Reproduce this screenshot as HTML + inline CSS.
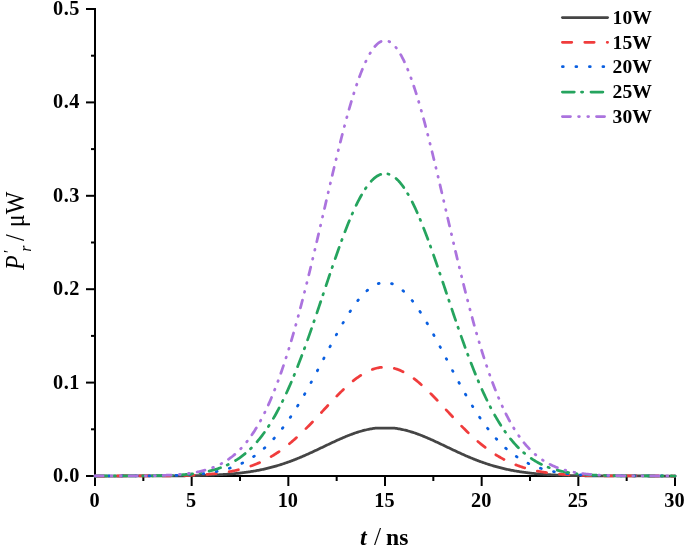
<!DOCTYPE html>
<html><head><meta charset="utf-8"><style>
html,body{margin:0;padding:0;background:#fff;width:685px;height:546px;overflow:hidden;}
svg{display:block;will-change:transform;}
text{font-family:"Liberation Serif", serif;}
</style></head><body>
<svg width="685" height="546" viewBox="0 0 685 546"><g stroke="#000" stroke-width="2" fill="none" stroke-linecap="butt">
<line x1="95" y1="8" x2="95" y2="486"/>
<line x1="94" y1="476" x2="675" y2="476"/>
<line x1="86" y1="476.00" x2="95" y2="476.00"/>
<line x1="86" y1="382.60" x2="95" y2="382.60"/>
<line x1="86" y1="289.20" x2="95" y2="289.20"/>
<line x1="86" y1="195.80" x2="95" y2="195.80"/>
<line x1="86" y1="102.40" x2="95" y2="102.40"/>
<line x1="86" y1="9.00" x2="95" y2="9.00"/>
<line x1="91" y1="429.30" x2="95" y2="429.30"/>
<line x1="91" y1="335.90" x2="95" y2="335.90"/>
<line x1="91" y1="242.50" x2="95" y2="242.50"/>
<line x1="91" y1="149.10" x2="95" y2="149.10"/>
<line x1="91" y1="55.70" x2="95" y2="55.70"/>
<line x1="95.00" y1="476" x2="95.00" y2="486"/>
<line x1="191.67" y1="476" x2="191.67" y2="486"/>
<line x1="288.33" y1="476" x2="288.33" y2="486"/>
<line x1="385.00" y1="476" x2="385.00" y2="486"/>
<line x1="481.67" y1="476" x2="481.67" y2="486"/>
<line x1="578.33" y1="476" x2="578.33" y2="486"/>
<line x1="675.00" y1="476" x2="675.00" y2="486"/>
<line x1="143.33" y1="476" x2="143.33" y2="481"/>
<line x1="240.00" y1="476" x2="240.00" y2="481"/>
<line x1="336.67" y1="476" x2="336.67" y2="481"/>
<line x1="433.33" y1="476" x2="433.33" y2="481"/>
<line x1="530.00" y1="476" x2="530.00" y2="481"/>
<line x1="626.67" y1="476" x2="626.67" y2="481"/>
</g>
<path d="M95.00,476.00 L95.97,476.00 L96.93,476.00 L97.90,476.00 L98.87,476.00 L99.83,476.00 L100.80,476.00 L101.77,476.00 L102.73,476.00 L103.70,476.00 L104.67,476.00 L105.63,476.00 L106.60,476.00 L107.57,476.00 L108.53,476.00 L109.50,476.00 L110.47,476.00 L111.43,476.00 L112.40,476.00 L113.37,476.00 L114.33,476.00 L115.30,476.00 L116.27,476.00 L117.23,476.00 L118.20,476.00 L119.17,476.00 L120.13,476.00 L121.10,476.00 L122.07,476.00 L123.03,475.99 L124.00,475.99 L124.97,475.99 L125.93,475.99 L126.90,475.99 L127.87,475.99 L128.83,475.99 L129.80,475.99 L130.77,475.99 L131.73,475.99 L132.70,475.99 L133.67,475.99 L134.63,475.99 L135.60,475.99 L136.57,475.99 L137.53,475.99 L138.50,475.99 L139.47,475.98 L140.43,475.98 L141.40,475.98 L142.37,475.98 L143.33,475.98 L144.30,475.98 L145.27,475.98 L146.23,475.98 L147.20,475.97 L148.17,475.97 L149.13,475.97 L150.10,475.97 L151.07,475.97 L152.03,475.96 L153.00,475.96 L153.97,475.96 L154.93,475.96 L155.90,475.96 L156.87,475.95 L157.83,475.95 L158.80,475.95 L159.77,475.94 L160.73,475.94 L161.70,475.94 L162.67,475.93 L163.63,475.93 L164.60,475.92 L165.57,475.92 L166.53,475.92 L167.50,475.91 L168.47,475.91 L169.43,475.90 L170.40,475.89 L171.37,475.89 L172.33,475.88 L173.30,475.88 L174.27,475.87 L175.23,475.86 L176.20,475.85 L177.17,475.85 L178.13,475.84 L179.10,475.83 L180.07,475.82 L181.03,475.81 L182.00,475.80 L182.97,475.79 L183.93,475.78 L184.90,475.77 L185.87,475.75 L186.83,475.74 L187.80,475.73 L188.77,475.71 L189.73,475.70 L190.70,475.68 L191.67,475.67 L192.63,475.65 L193.60,475.63 L194.57,475.61 L195.53,475.59 L196.50,475.57 L197.47,475.55 L198.43,475.53 L199.40,475.51 L200.37,475.48 L201.33,475.46 L202.30,475.43 L203.27,475.40 L204.23,475.38 L205.20,475.35 L206.17,475.31 L207.13,475.28 L208.10,475.25 L209.07,475.21 L210.03,475.18 L211.00,475.14 L211.97,475.10 L212.93,475.06 L213.90,475.02 L214.87,474.97 L215.83,474.93 L216.80,474.88 L217.77,474.83 L218.73,474.78 L219.70,474.73 L220.67,474.67 L221.63,474.61 L222.60,474.55 L223.57,474.49 L224.53,474.43 L225.50,474.36 L226.47,474.30 L227.43,474.22 L228.40,474.15 L229.37,474.08 L230.33,474.00 L231.30,473.92 L232.27,473.83 L233.23,473.75 L234.20,473.66 L235.17,473.56 L236.13,473.47 L237.10,473.37 L238.07,473.27 L239.03,473.16 L240.00,473.05 L240.97,472.94 L241.93,472.83 L242.90,472.71 L243.87,472.59 L244.83,472.46 L245.80,472.33 L246.77,472.20 L247.73,472.06 L248.70,471.92 L249.67,471.77 L250.63,471.63 L251.60,471.47 L252.57,471.31 L253.53,471.15 L254.50,470.99 L255.47,470.82 L256.43,470.64 L257.40,470.46 L258.37,470.28 L259.33,470.09 L260.30,469.89 L261.27,469.70 L262.23,469.49 L263.20,469.29 L264.17,469.07 L265.13,468.85 L266.10,468.63 L267.07,468.40 L268.03,468.17 L269.00,467.93 L269.97,467.69 L270.93,467.44 L271.90,467.19 L272.87,466.93 L273.83,466.66 L274.80,466.39 L275.77,466.12 L276.73,465.84 L277.70,465.55 L278.67,465.26 L279.63,464.96 L280.60,464.66 L281.57,464.35 L282.53,464.04 L283.50,463.72 L284.47,463.40 L285.43,463.07 L286.40,462.74 L287.37,462.40 L288.33,462.05 L289.30,461.70 L290.27,461.35 L291.23,460.99 L292.20,460.63 L293.17,460.26 L294.13,459.88 L295.10,459.50 L296.07,459.12 L297.03,458.73 L298.00,458.34 L298.97,457.94 L299.93,457.54 L300.90,457.13 L301.87,456.72 L302.83,456.30 L303.80,455.89 L304.77,455.46 L305.73,455.04 L306.70,454.61 L307.67,454.18 L308.63,453.74 L309.60,453.30 L310.57,452.86 L311.53,452.41 L312.50,451.97 L313.47,451.52 L314.43,451.07 L315.40,450.61 L316.37,450.16 L317.33,449.70 L318.30,449.24 L319.27,448.78 L320.23,448.32 L321.20,447.86 L322.17,447.40 L323.13,446.93 L324.10,446.47 L325.07,446.01 L326.03,445.55 L327.00,445.08 L327.97,444.62 L328.93,444.16 L329.90,443.70 L330.87,443.25 L331.83,442.79 L332.80,442.34 L333.77,441.89 L334.73,441.44 L335.70,440.99 L336.67,440.55 L337.63,440.11 L338.60,439.67 L339.57,439.24 L340.53,438.82 L341.50,438.39 L342.47,437.97 L343.43,437.56 L344.40,437.15 L345.37,436.75 L346.33,436.35 L347.30,435.96 L348.27,435.57 L349.23,435.19 L350.20,434.82 L351.17,434.46 L352.13,434.10 L353.10,433.75 L354.07,433.41 L355.03,433.07 L356.00,432.74 L356.97,432.42 L357.93,432.11 L358.90,431.81 L359.87,431.52 L360.83,431.24 L361.80,430.96 L362.77,430.70 L363.73,430.45 L364.70,430.20 L365.67,429.97 L366.63,429.74 L367.60,429.53 L368.57,429.33 L369.53,429.14 L370.50,428.95 L371.47,428.78 L372.43,428.63 L373.40,428.48 L374.37,428.34 L375.33,428.22 L376.30,428.22 L377.27,428.22 L378.23,428.22 L379.20,428.22 L380.17,428.22 L381.13,428.22 L382.10,428.22 L383.07,428.22 L384.03,428.22 L385.00,428.22 L385.97,428.22 L386.93,428.22 L387.90,428.22 L388.87,428.22 L389.83,428.22 L390.80,428.22 L391.77,428.22 L392.73,428.22 L393.70,428.22 L394.67,428.22 L395.63,428.34 L396.60,428.48 L397.57,428.63 L398.53,428.78 L399.50,428.95 L400.47,429.14 L401.43,429.33 L402.40,429.53 L403.37,429.74 L404.33,429.97 L405.30,430.20 L406.27,430.45 L407.23,430.70 L408.20,430.96 L409.17,431.24 L410.13,431.52 L411.10,431.81 L412.07,432.11 L413.03,432.42 L414.00,432.74 L414.97,433.07 L415.93,433.41 L416.90,433.75 L417.87,434.10 L418.83,434.46 L419.80,434.82 L420.77,435.19 L421.73,435.57 L422.70,435.96 L423.67,436.35 L424.63,436.75 L425.60,437.15 L426.57,437.56 L427.53,437.97 L428.50,438.39 L429.47,438.82 L430.43,439.24 L431.40,439.67 L432.37,440.11 L433.33,440.55 L434.30,440.99 L435.27,441.44 L436.23,441.89 L437.20,442.34 L438.17,442.79 L439.13,443.25 L440.10,443.70 L441.07,444.16 L442.03,444.62 L443.00,445.08 L443.97,445.55 L444.93,446.01 L445.90,446.47 L446.87,446.93 L447.83,447.40 L448.80,447.86 L449.77,448.32 L450.73,448.78 L451.70,449.24 L452.67,449.70 L453.63,450.16 L454.60,450.61 L455.57,451.07 L456.53,451.52 L457.50,451.97 L458.47,452.41 L459.43,452.86 L460.40,453.30 L461.37,453.74 L462.33,454.18 L463.30,454.61 L464.27,455.04 L465.23,455.46 L466.20,455.89 L467.17,456.30 L468.13,456.72 L469.10,457.13 L470.07,457.54 L471.03,457.94 L472.00,458.34 L472.97,458.73 L473.93,459.12 L474.90,459.50 L475.87,459.88 L476.83,460.26 L477.80,460.63 L478.77,460.99 L479.73,461.35 L480.70,461.70 L481.67,462.05 L482.63,462.40 L483.60,462.74 L484.57,463.07 L485.53,463.40 L486.50,463.72 L487.47,464.04 L488.43,464.35 L489.40,464.66 L490.37,464.96 L491.33,465.26 L492.30,465.55 L493.27,465.84 L494.23,466.12 L495.20,466.39 L496.17,466.66 L497.13,466.93 L498.10,467.19 L499.07,467.44 L500.03,467.69 L501.00,467.93 L501.97,468.17 L502.93,468.40 L503.90,468.63 L504.87,468.85 L505.83,469.07 L506.80,469.29 L507.77,469.49 L508.73,469.70 L509.70,469.89 L510.67,470.09 L511.63,470.28 L512.60,470.46 L513.57,470.64 L514.53,470.82 L515.50,470.99 L516.47,471.15 L517.43,471.31 L518.40,471.47 L519.37,471.63 L520.33,471.77 L521.30,471.92 L522.27,472.06 L523.23,472.20 L524.20,472.33 L525.17,472.46 L526.13,472.59 L527.10,472.71 L528.07,472.83 L529.03,472.94 L530.00,473.05 L530.97,473.16 L531.93,473.27 L532.90,473.37 L533.87,473.47 L534.83,473.56 L535.80,473.66 L536.77,473.75 L537.73,473.83 L538.70,473.92 L539.67,474.00 L540.63,474.08 L541.60,474.15 L542.57,474.22 L543.53,474.30 L544.50,474.36 L545.47,474.43 L546.43,474.49 L547.40,474.55 L548.37,474.61 L549.33,474.67 L550.30,474.73 L551.27,474.78 L552.23,474.83 L553.20,474.88 L554.17,474.93 L555.13,474.97 L556.10,475.02 L557.07,475.06 L558.03,475.10 L559.00,475.14 L559.97,475.18 L560.93,475.21 L561.90,475.25 L562.87,475.28 L563.83,475.31 L564.80,475.35 L565.77,475.38 L566.73,475.40 L567.70,475.43 L568.67,475.46 L569.63,475.48 L570.60,475.51 L571.57,475.53 L572.53,475.55 L573.50,475.57 L574.47,475.59 L575.43,475.61 L576.40,475.63 L577.37,475.65 L578.33,475.67 L579.30,475.68 L580.27,475.70 L581.23,475.71 L582.20,475.73 L583.17,475.74 L584.13,475.75 L585.10,475.77 L586.07,475.78 L587.03,475.79 L588.00,475.80 L588.97,475.81 L589.93,475.82 L590.90,475.83 L591.87,475.84 L592.83,475.85 L593.80,475.85 L594.77,475.86 L595.73,475.87 L596.70,475.88 L597.67,475.88 L598.63,475.89 L599.60,475.89 L600.57,475.90 L601.53,475.91 L602.50,475.91 L603.47,475.92 L604.43,475.92 L605.40,475.92 L606.37,475.93 L607.33,475.93 L608.30,475.94 L609.27,475.94 L610.23,475.94 L611.20,475.95 L612.17,475.95 L613.13,475.95 L614.10,475.96 L615.07,475.96 L616.03,475.96 L617.00,475.96 L617.97,475.96 L618.93,475.97 L619.90,475.97 L620.87,475.97 L621.83,475.97 L622.80,475.97 L623.77,475.98 L624.73,475.98 L625.70,475.98 L626.67,475.98 L627.63,475.98 L628.60,475.98 L629.57,475.98 L630.53,475.98 L631.50,475.99 L632.47,475.99 L633.43,475.99 L634.40,475.99 L635.37,475.99 L636.33,475.99 L637.30,475.99 L638.27,475.99 L639.23,475.99 L640.20,475.99 L641.17,475.99 L642.13,475.99 L643.10,475.99 L644.07,475.99 L645.03,475.99 L646.00,475.99 L646.97,475.99 L647.93,476.00 L648.90,476.00 L649.87,476.00 L650.83,476.00 L651.80,476.00 L652.77,476.00 L653.73,476.00 L654.70,476.00 L655.67,476.00 L656.63,476.00 L657.60,476.00 L658.57,476.00 L659.53,476.00 L660.50,476.00 L661.47,476.00 L662.43,476.00 L663.40,476.00 L664.37,476.00 L665.33,476.00 L666.30,476.00 L667.27,476.00 L668.23,476.00 L669.20,476.00 L670.17,476.00 L671.13,476.00 L672.10,476.00 L673.07,476.00 L674.03,476.00 L675.00,476.00" fill="none" stroke="#454545" stroke-width="2.75" stroke-linejoin="round" stroke-linecap="round"/>
<path d="M95.00,476.00 L95.97,476.00 L96.93,476.00 L97.90,476.00 L98.87,476.00 L99.83,476.00 L100.80,476.00 L101.77,476.00 L102.73,476.00 L103.70,476.00 L104.67,476.00 L105.63,476.00 L106.60,476.00 L107.57,476.00 L108.53,476.00 L109.50,476.00 L110.47,476.00 L111.43,475.99 L112.40,475.99 L113.37,475.99 L114.33,475.99 L115.30,475.99 L116.27,475.99 L117.23,475.99 L118.20,475.99 L119.17,475.99 L120.13,475.99 L121.10,475.99 L122.07,475.99 L123.03,475.99 L124.00,475.99 L124.97,475.99 L125.93,475.99 L126.90,475.98 L127.87,475.98 L128.83,475.98 L129.80,475.98 L130.77,475.98 L131.73,475.98 L132.70,475.98 L133.67,475.98 L134.63,475.97 L135.60,475.97 L136.57,475.97 L137.53,475.97 L138.50,475.97 L139.47,475.96 L140.43,475.96 L141.40,475.96 L142.37,475.96 L143.33,475.95 L144.30,475.95 L145.27,475.95 L146.23,475.94 L147.20,475.94 L148.17,475.94 L149.13,475.93 L150.10,475.93 L151.07,475.93 L152.03,475.92 L153.00,475.92 L153.97,475.91 L154.93,475.91 L155.90,475.90 L156.87,475.89 L157.83,475.89 L158.80,475.88 L159.77,475.87 L160.73,475.87 L161.70,475.86 L162.67,475.85 L163.63,475.84 L164.60,475.83 L165.57,475.82 L166.53,475.81 L167.50,475.80 L168.47,475.79 L169.43,475.78 L170.40,475.76 L171.37,475.75 L172.33,475.74 L173.30,475.72 L174.27,475.71 L175.23,475.69 L176.20,475.67 L177.17,475.65 L178.13,475.63 L179.10,475.61 L180.07,475.59 L181.03,475.57 L182.00,475.55 L182.97,475.52 L183.93,475.50 L184.90,475.47 L185.87,475.44 L186.83,475.42 L187.80,475.39 L188.77,475.35 L189.73,475.32 L190.70,475.29 L191.67,475.25 L192.63,475.21 L193.60,475.17 L194.57,475.13 L195.53,475.08 L196.50,475.04 L197.47,474.99 L198.43,474.94 L199.40,474.89 L200.37,474.84 L201.33,474.78 L202.30,474.72 L203.27,474.66 L204.23,474.59 L205.20,474.53 L206.17,474.46 L207.13,474.39 L208.10,474.31 L209.07,474.23 L210.03,474.15 L211.00,474.07 L211.97,473.98 L212.93,473.89 L213.90,473.79 L214.87,473.69 L215.83,473.59 L216.80,473.48 L217.77,473.37 L218.73,473.25 L219.70,473.13 L220.67,473.01 L221.63,472.88 L222.60,472.75 L223.57,472.61 L224.53,472.47 L225.50,472.32 L226.47,472.16 L227.43,472.00 L228.40,471.84 L229.37,471.67 L230.33,471.49 L231.30,471.31 L232.27,471.12 L233.23,470.93 L234.20,470.73 L235.17,470.52 L236.13,470.30 L237.10,470.08 L238.07,469.85 L239.03,469.62 L240.00,469.37 L240.97,469.12 L241.93,468.86 L242.90,468.60 L243.87,468.32 L244.83,468.04 L245.80,467.75 L246.77,467.45 L247.73,467.14 L248.70,466.82 L249.67,466.49 L250.63,466.16 L251.60,465.81 L252.57,465.46 L253.53,465.09 L254.50,464.72 L255.47,464.34 L256.43,463.94 L257.40,463.54 L258.37,463.12 L259.33,462.70 L260.30,462.26 L261.27,461.82 L262.23,461.36 L263.20,460.89 L264.17,460.41 L265.13,459.92 L266.10,459.42 L267.07,458.91 L268.03,458.38 L269.00,457.85 L269.97,457.30 L270.93,456.74 L271.90,456.17 L272.87,455.59 L273.83,454.99 L274.80,454.38 L275.77,453.76 L276.73,453.13 L277.70,452.49 L278.67,451.84 L279.63,451.17 L280.60,450.49 L281.57,449.80 L282.53,449.09 L283.50,448.38 L284.47,447.65 L285.43,446.91 L286.40,446.16 L287.37,445.40 L288.33,444.62 L289.30,443.84 L290.27,443.04 L291.23,442.23 L292.20,441.41 L293.17,440.58 L294.13,439.73 L295.10,438.88 L296.07,438.02 L297.03,437.14 L298.00,436.26 L298.97,435.36 L299.93,434.46 L300.90,433.54 L301.87,432.62 L302.83,431.69 L303.80,430.74 L304.77,429.79 L305.73,428.84 L306.70,427.87 L307.67,426.90 L308.63,425.92 L309.60,424.93 L310.57,423.93 L311.53,422.93 L312.50,421.93 L313.47,420.92 L314.43,419.90 L315.40,418.88 L316.37,417.85 L317.33,416.82 L318.30,415.79 L319.27,414.76 L320.23,413.72 L321.20,412.68 L322.17,411.64 L323.13,410.60 L324.10,409.56 L325.07,408.52 L326.03,407.48 L327.00,406.44 L327.97,405.40 L328.93,404.36 L329.90,403.33 L330.87,402.30 L331.83,401.28 L332.80,400.26 L333.77,399.24 L334.73,398.24 L335.70,397.23 L336.67,396.24 L337.63,395.25 L338.60,394.27 L339.57,393.30 L340.53,392.33 L341.50,391.38 L342.47,390.44 L343.43,389.51 L344.40,388.59 L345.37,387.68 L346.33,386.79 L347.30,385.91 L348.27,385.04 L349.23,384.19 L350.20,383.35 L351.17,382.53 L352.13,381.72 L353.10,380.93 L354.07,380.16 L355.03,379.41 L356.00,378.67 L356.97,377.95 L357.93,377.26 L358.90,376.58 L359.87,375.92 L360.83,375.28 L361.80,374.67 L362.77,374.07 L363.73,373.50 L364.70,372.95 L365.67,372.43 L366.63,371.92 L367.60,371.44 L368.57,370.99 L369.53,370.55 L370.50,370.15 L371.47,369.76 L372.43,369.41 L373.40,369.07 L374.37,368.77 L375.33,368.49 L376.30,368.23 L377.27,368.01 L378.23,367.80 L379.20,367.63 L380.17,367.48 L381.13,367.36 L382.10,367.26 L383.07,367.20 L384.03,367.16 L385.00,367.14 L385.97,367.16 L386.93,367.20 L387.90,367.26 L388.87,367.36 L389.83,367.48 L390.80,367.63 L391.77,367.80 L392.73,368.01 L393.70,368.23 L394.67,368.49 L395.63,368.77 L396.60,369.07 L397.57,369.41 L398.53,369.76 L399.50,370.15 L400.47,370.55 L401.43,370.99 L402.40,371.44 L403.37,371.92 L404.33,372.43 L405.30,372.95 L406.27,373.50 L407.23,374.07 L408.20,374.67 L409.17,375.28 L410.13,375.92 L411.10,376.58 L412.07,377.26 L413.03,377.95 L414.00,378.67 L414.97,379.41 L415.93,380.16 L416.90,380.93 L417.87,381.72 L418.83,382.53 L419.80,383.35 L420.77,384.19 L421.73,385.04 L422.70,385.91 L423.67,386.79 L424.63,387.68 L425.60,388.59 L426.57,389.51 L427.53,390.44 L428.50,391.38 L429.47,392.33 L430.43,393.30 L431.40,394.27 L432.37,395.25 L433.33,396.24 L434.30,397.23 L435.27,398.24 L436.23,399.24 L437.20,400.26 L438.17,401.28 L439.13,402.30 L440.10,403.33 L441.07,404.36 L442.03,405.40 L443.00,406.44 L443.97,407.48 L444.93,408.52 L445.90,409.56 L446.87,410.60 L447.83,411.64 L448.80,412.68 L449.77,413.72 L450.73,414.76 L451.70,415.79 L452.67,416.82 L453.63,417.85 L454.60,418.88 L455.57,419.90 L456.53,420.92 L457.50,421.93 L458.47,422.93 L459.43,423.93 L460.40,424.93 L461.37,425.92 L462.33,426.90 L463.30,427.87 L464.27,428.84 L465.23,429.79 L466.20,430.74 L467.17,431.69 L468.13,432.62 L469.10,433.54 L470.07,434.46 L471.03,435.36 L472.00,436.26 L472.97,437.14 L473.93,438.02 L474.90,438.88 L475.87,439.73 L476.83,440.58 L477.80,441.41 L478.77,442.23 L479.73,443.04 L480.70,443.84 L481.67,444.62 L482.63,445.40 L483.60,446.16 L484.57,446.91 L485.53,447.65 L486.50,448.38 L487.47,449.09 L488.43,449.80 L489.40,450.49 L490.37,451.17 L491.33,451.84 L492.30,452.49 L493.27,453.13 L494.23,453.76 L495.20,454.38 L496.17,454.99 L497.13,455.59 L498.10,456.17 L499.07,456.74 L500.03,457.30 L501.00,457.85 L501.97,458.38 L502.93,458.91 L503.90,459.42 L504.87,459.92 L505.83,460.41 L506.80,460.89 L507.77,461.36 L508.73,461.82 L509.70,462.26 L510.67,462.70 L511.63,463.12 L512.60,463.54 L513.57,463.94 L514.53,464.34 L515.50,464.72 L516.47,465.09 L517.43,465.46 L518.40,465.81 L519.37,466.16 L520.33,466.49 L521.30,466.82 L522.27,467.14 L523.23,467.45 L524.20,467.75 L525.17,468.04 L526.13,468.32 L527.10,468.60 L528.07,468.86 L529.03,469.12 L530.00,469.37 L530.97,469.62 L531.93,469.85 L532.90,470.08 L533.87,470.30 L534.83,470.52 L535.80,470.73 L536.77,470.93 L537.73,471.12 L538.70,471.31 L539.67,471.49 L540.63,471.67 L541.60,471.84 L542.57,472.00 L543.53,472.16 L544.50,472.32 L545.47,472.47 L546.43,472.61 L547.40,472.75 L548.37,472.88 L549.33,473.01 L550.30,473.13 L551.27,473.25 L552.23,473.37 L553.20,473.48 L554.17,473.59 L555.13,473.69 L556.10,473.79 L557.07,473.89 L558.03,473.98 L559.00,474.07 L559.97,474.15 L560.93,474.23 L561.90,474.31 L562.87,474.39 L563.83,474.46 L564.80,474.53 L565.77,474.59 L566.73,474.66 L567.70,474.72 L568.67,474.78 L569.63,474.84 L570.60,474.89 L571.57,474.94 L572.53,474.99 L573.50,475.04 L574.47,475.08 L575.43,475.13 L576.40,475.17 L577.37,475.21 L578.33,475.25 L579.30,475.29 L580.27,475.32 L581.23,475.35 L582.20,475.39 L583.17,475.42 L584.13,475.44 L585.10,475.47 L586.07,475.50 L587.03,475.52 L588.00,475.55 L588.97,475.57 L589.93,475.59 L590.90,475.61 L591.87,475.63 L592.83,475.65 L593.80,475.67 L594.77,475.69 L595.73,475.71 L596.70,475.72 L597.67,475.74 L598.63,475.75 L599.60,475.76 L600.57,475.78 L601.53,475.79 L602.50,475.80 L603.47,475.81 L604.43,475.82 L605.40,475.83 L606.37,475.84 L607.33,475.85 L608.30,475.86 L609.27,475.87 L610.23,475.87 L611.20,475.88 L612.17,475.89 L613.13,475.89 L614.10,475.90 L615.07,475.91 L616.03,475.91 L617.00,475.92 L617.97,475.92 L618.93,475.93 L619.90,475.93 L620.87,475.93 L621.83,475.94 L622.80,475.94 L623.77,475.94 L624.73,475.95 L625.70,475.95 L626.67,475.95 L627.63,475.96 L628.60,475.96 L629.57,475.96 L630.53,475.96 L631.50,475.97 L632.47,475.97 L633.43,475.97 L634.40,475.97 L635.37,475.97 L636.33,475.98 L637.30,475.98 L638.27,475.98 L639.23,475.98 L640.20,475.98 L641.17,475.98 L642.13,475.98 L643.10,475.98 L644.07,475.99 L645.03,475.99 L646.00,475.99 L646.97,475.99 L647.93,475.99 L648.90,475.99 L649.87,475.99 L650.83,475.99 L651.80,475.99 L652.77,475.99 L653.73,475.99 L654.70,475.99 L655.67,475.99 L656.63,475.99 L657.60,475.99 L658.57,475.99 L659.53,476.00 L660.50,476.00 L661.47,476.00 L662.43,476.00 L663.40,476.00 L664.37,476.00 L665.33,476.00 L666.30,476.00 L667.27,476.00 L668.23,476.00 L669.20,476.00 L670.17,476.00 L671.13,476.00 L672.10,476.00 L673.07,476.00 L674.03,476.00 L675.00,476.00" fill="none" stroke="#f03c3c" stroke-width="2.75" stroke-dasharray="9.4 13.0" stroke-linejoin="round" stroke-linecap="round"/>
<path d="M95.00,476.00 L95.97,476.00 L96.93,476.00 L97.90,476.00 L98.87,476.00 L99.83,476.00 L100.80,476.00 L101.77,476.00 L102.73,476.00 L103.70,475.99 L104.67,475.99 L105.63,475.99 L106.60,475.99 L107.57,475.99 L108.53,475.99 L109.50,475.99 L110.47,475.99 L111.43,475.99 L112.40,475.99 L113.37,475.99 L114.33,475.99 L115.30,475.99 L116.27,475.99 L117.23,475.99 L118.20,475.99 L119.17,475.98 L120.13,475.98 L121.10,475.98 L122.07,475.98 L123.03,475.98 L124.00,475.98 L124.97,475.98 L125.93,475.97 L126.90,475.97 L127.87,475.97 L128.83,475.97 L129.80,475.97 L130.77,475.96 L131.73,475.96 L132.70,475.96 L133.67,475.96 L134.63,475.95 L135.60,475.95 L136.57,475.95 L137.53,475.94 L138.50,475.94 L139.47,475.94 L140.43,475.93 L141.40,475.93 L142.37,475.92 L143.33,475.92 L144.30,475.91 L145.27,475.91 L146.23,475.90 L147.20,475.90 L148.17,475.89 L149.13,475.88 L150.10,475.88 L151.07,475.87 L152.03,475.86 L153.00,475.85 L153.97,475.84 L154.93,475.83 L155.90,475.82 L156.87,475.81 L157.83,475.80 L158.80,475.79 L159.77,475.77 L160.73,475.76 L161.70,475.75 L162.67,475.73 L163.63,475.72 L164.60,475.70 L165.57,475.68 L166.53,475.66 L167.50,475.64 L168.47,475.62 L169.43,475.60 L170.40,475.58 L171.37,475.56 L172.33,475.53 L173.30,475.50 L174.27,475.48 L175.23,475.45 L176.20,475.42 L177.17,475.38 L178.13,475.35 L179.10,475.31 L180.07,475.28 L181.03,475.24 L182.00,475.20 L182.97,475.15 L183.93,475.11 L184.90,475.06 L185.87,475.01 L186.83,474.96 L187.80,474.91 L188.77,474.85 L189.73,474.79 L190.70,474.73 L191.67,474.66 L192.63,474.60 L193.60,474.52 L194.57,474.45 L195.53,474.37 L196.50,474.29 L197.47,474.21 L198.43,474.12 L199.40,474.03 L200.37,473.93 L201.33,473.83 L202.30,473.72 L203.27,473.62 L204.23,473.50 L205.20,473.38 L206.17,473.26 L207.13,473.13 L208.10,473.00 L209.07,472.86 L210.03,472.71 L211.00,472.56 L211.97,472.40 L212.93,472.24 L213.90,472.07 L214.87,471.89 L215.83,471.71 L216.80,471.52 L217.77,471.32 L218.73,471.12 L219.70,470.91 L220.67,470.69 L221.63,470.46 L222.60,470.22 L223.57,469.97 L224.53,469.72 L225.50,469.45 L226.47,469.18 L227.43,468.90 L228.40,468.60 L229.37,468.30 L230.33,467.99 L231.30,467.66 L232.27,467.33 L233.23,466.98 L234.20,466.62 L235.17,466.25 L236.13,465.87 L237.10,465.48 L238.07,465.07 L239.03,464.65 L240.00,464.22 L240.97,463.77 L241.93,463.31 L242.90,462.84 L243.87,462.35 L244.83,461.84 L245.80,461.33 L246.77,460.79 L247.73,460.24 L248.70,459.68 L249.67,459.10 L250.63,458.50 L251.60,457.89 L252.57,457.26 L253.53,456.61 L254.50,455.95 L255.47,455.26 L256.43,454.56 L257.40,453.85 L258.37,453.11 L259.33,452.35 L260.30,451.58 L261.27,450.79 L262.23,449.97 L263.20,449.14 L264.17,448.29 L265.13,447.42 L266.10,446.53 L267.07,445.61 L268.03,444.68 L269.00,443.73 L269.97,442.76 L270.93,441.76 L271.90,440.75 L272.87,439.71 L273.83,438.65 L274.80,437.57 L275.77,436.47 L276.73,435.35 L277.70,434.21 L278.67,433.04 L279.63,431.85 L280.60,430.65 L281.57,429.42 L282.53,428.17 L283.50,426.89 L284.47,425.60 L285.43,424.29 L286.40,422.95 L287.37,421.59 L288.33,420.22 L289.30,418.82 L290.27,417.40 L291.23,415.96 L292.20,414.50 L293.17,413.02 L294.13,411.52 L295.10,410.01 L296.07,408.47 L297.03,406.92 L298.00,405.34 L298.97,403.75 L299.93,402.14 L300.90,400.52 L301.87,398.88 L302.83,397.22 L303.80,395.55 L304.77,393.86 L305.73,392.15 L306.70,390.44 L307.67,388.70 L308.63,386.96 L309.60,385.20 L310.57,383.44 L311.53,381.66 L312.50,379.87 L313.47,378.07 L314.43,376.26 L315.40,374.45 L316.37,372.63 L317.33,370.80 L318.30,368.96 L319.27,367.12 L320.23,365.28 L321.20,363.43 L322.17,361.58 L323.13,359.73 L324.10,357.88 L325.07,356.03 L326.03,354.18 L327.00,352.33 L327.97,350.49 L328.93,348.65 L329.90,346.81 L330.87,344.98 L331.83,343.16 L332.80,341.35 L333.77,339.55 L334.73,337.75 L335.70,335.97 L336.67,334.20 L337.63,332.44 L338.60,330.70 L339.57,328.97 L340.53,327.26 L341.50,325.57 L342.47,323.89 L343.43,322.24 L344.40,320.60 L345.37,318.99 L346.33,317.40 L347.30,315.83 L348.27,314.29 L349.23,312.78 L350.20,311.29 L351.17,309.83 L352.13,308.40 L353.10,306.99 L354.07,305.62 L355.03,304.28 L356.00,302.97 L356.97,301.70 L357.93,300.46 L358.90,299.25 L359.87,298.08 L360.83,296.95 L361.80,295.86 L362.77,294.80 L363.73,293.78 L364.70,292.81 L365.67,291.87 L366.63,290.97 L367.60,290.12 L368.57,289.31 L369.53,288.54 L370.50,287.82 L371.47,287.14 L372.43,286.50 L373.40,285.91 L374.37,285.37 L375.33,284.87 L376.30,284.42 L377.27,284.01 L378.23,283.65 L379.20,283.34 L380.17,283.08 L381.13,282.86 L382.10,282.69 L383.07,282.57 L384.03,282.50 L385.00,282.48 L385.97,282.50 L386.93,282.57 L387.90,282.69 L388.87,282.86 L389.83,283.08 L390.80,283.34 L391.77,283.65 L392.73,284.01 L393.70,284.42 L394.67,284.87 L395.63,285.37 L396.60,285.91 L397.57,286.50 L398.53,287.14 L399.50,287.82 L400.47,288.54 L401.43,289.31 L402.40,290.12 L403.37,290.97 L404.33,291.87 L405.30,292.81 L406.27,293.78 L407.23,294.80 L408.20,295.86 L409.17,296.95 L410.13,298.08 L411.10,299.25 L412.07,300.46 L413.03,301.70 L414.00,302.97 L414.97,304.28 L415.93,305.62 L416.90,306.99 L417.87,308.40 L418.83,309.83 L419.80,311.29 L420.77,312.78 L421.73,314.29 L422.70,315.83 L423.67,317.40 L424.63,318.99 L425.60,320.60 L426.57,322.24 L427.53,323.89 L428.50,325.57 L429.47,327.26 L430.43,328.97 L431.40,330.70 L432.37,332.44 L433.33,334.20 L434.30,335.97 L435.27,337.75 L436.23,339.55 L437.20,341.35 L438.17,343.16 L439.13,344.98 L440.10,346.81 L441.07,348.65 L442.03,350.49 L443.00,352.33 L443.97,354.18 L444.93,356.03 L445.90,357.88 L446.87,359.73 L447.83,361.58 L448.80,363.43 L449.77,365.28 L450.73,367.12 L451.70,368.96 L452.67,370.80 L453.63,372.63 L454.60,374.45 L455.57,376.26 L456.53,378.07 L457.50,379.87 L458.47,381.66 L459.43,383.44 L460.40,385.20 L461.37,386.96 L462.33,388.70 L463.30,390.44 L464.27,392.15 L465.23,393.86 L466.20,395.55 L467.17,397.22 L468.13,398.88 L469.10,400.52 L470.07,402.14 L471.03,403.75 L472.00,405.34 L472.97,406.92 L473.93,408.47 L474.90,410.01 L475.87,411.52 L476.83,413.02 L477.80,414.50 L478.77,415.96 L479.73,417.40 L480.70,418.82 L481.67,420.22 L482.63,421.59 L483.60,422.95 L484.57,424.29 L485.53,425.60 L486.50,426.89 L487.47,428.17 L488.43,429.42 L489.40,430.65 L490.37,431.85 L491.33,433.04 L492.30,434.21 L493.27,435.35 L494.23,436.47 L495.20,437.57 L496.17,438.65 L497.13,439.71 L498.10,440.75 L499.07,441.76 L500.03,442.76 L501.00,443.73 L501.97,444.68 L502.93,445.61 L503.90,446.53 L504.87,447.42 L505.83,448.29 L506.80,449.14 L507.77,449.97 L508.73,450.79 L509.70,451.58 L510.67,452.35 L511.63,453.11 L512.60,453.85 L513.57,454.56 L514.53,455.26 L515.50,455.95 L516.47,456.61 L517.43,457.26 L518.40,457.89 L519.37,458.50 L520.33,459.10 L521.30,459.68 L522.27,460.24 L523.23,460.79 L524.20,461.33 L525.17,461.84 L526.13,462.35 L527.10,462.84 L528.07,463.31 L529.03,463.77 L530.00,464.22 L530.97,464.65 L531.93,465.07 L532.90,465.48 L533.87,465.87 L534.83,466.25 L535.80,466.62 L536.77,466.98 L537.73,467.33 L538.70,467.66 L539.67,467.99 L540.63,468.30 L541.60,468.60 L542.57,468.90 L543.53,469.18 L544.50,469.45 L545.47,469.72 L546.43,469.97 L547.40,470.22 L548.37,470.46 L549.33,470.69 L550.30,470.91 L551.27,471.12 L552.23,471.32 L553.20,471.52 L554.17,471.71 L555.13,471.89 L556.10,472.07 L557.07,472.24 L558.03,472.40 L559.00,472.56 L559.97,472.71 L560.93,472.86 L561.90,473.00 L562.87,473.13 L563.83,473.26 L564.80,473.38 L565.77,473.50 L566.73,473.62 L567.70,473.72 L568.67,473.83 L569.63,473.93 L570.60,474.03 L571.57,474.12 L572.53,474.21 L573.50,474.29 L574.47,474.37 L575.43,474.45 L576.40,474.52 L577.37,474.60 L578.33,474.66 L579.30,474.73 L580.27,474.79 L581.23,474.85 L582.20,474.91 L583.17,474.96 L584.13,475.01 L585.10,475.06 L586.07,475.11 L587.03,475.15 L588.00,475.20 L588.97,475.24 L589.93,475.28 L590.90,475.31 L591.87,475.35 L592.83,475.38 L593.80,475.42 L594.77,475.45 L595.73,475.48 L596.70,475.50 L597.67,475.53 L598.63,475.56 L599.60,475.58 L600.57,475.60 L601.53,475.62 L602.50,475.64 L603.47,475.66 L604.43,475.68 L605.40,475.70 L606.37,475.72 L607.33,475.73 L608.30,475.75 L609.27,475.76 L610.23,475.77 L611.20,475.79 L612.17,475.80 L613.13,475.81 L614.10,475.82 L615.07,475.83 L616.03,475.84 L617.00,475.85 L617.97,475.86 L618.93,475.87 L619.90,475.88 L620.87,475.88 L621.83,475.89 L622.80,475.90 L623.77,475.90 L624.73,475.91 L625.70,475.91 L626.67,475.92 L627.63,475.92 L628.60,475.93 L629.57,475.93 L630.53,475.94 L631.50,475.94 L632.47,475.94 L633.43,475.95 L634.40,475.95 L635.37,475.95 L636.33,475.96 L637.30,475.96 L638.27,475.96 L639.23,475.96 L640.20,475.97 L641.17,475.97 L642.13,475.97 L643.10,475.97 L644.07,475.97 L645.03,475.98 L646.00,475.98 L646.97,475.98 L647.93,475.98 L648.90,475.98 L649.87,475.98 L650.83,475.98 L651.80,475.99 L652.77,475.99 L653.73,475.99 L654.70,475.99 L655.67,475.99 L656.63,475.99 L657.60,475.99 L658.57,475.99 L659.53,475.99 L660.50,475.99 L661.47,475.99 L662.43,475.99 L663.40,475.99 L664.37,475.99 L665.33,475.99 L666.30,475.99 L667.27,476.00 L668.23,476.00 L669.20,476.00 L670.17,476.00 L671.13,476.00 L672.10,476.00 L673.07,476.00 L674.03,476.00 L675.00,476.00" fill="none" stroke="#0a5fe0" stroke-width="2.75" stroke-dasharray="0.9 12.6" stroke-linejoin="round" stroke-linecap="round"/>
<path d="M95.00,476.00 L95.97,476.00 L96.93,476.00 L97.90,475.99 L98.87,475.99 L99.83,475.99 L100.80,475.99 L101.77,475.99 L102.73,475.99 L103.70,475.99 L104.67,475.99 L105.63,475.99 L106.60,475.99 L107.57,475.99 L108.53,475.99 L109.50,475.99 L110.47,475.99 L111.43,475.99 L112.40,475.98 L113.37,475.98 L114.33,475.98 L115.30,475.98 L116.27,475.98 L117.23,475.98 L118.20,475.98 L119.17,475.98 L120.13,475.97 L121.10,475.97 L122.07,475.97 L123.03,475.97 L124.00,475.97 L124.97,475.96 L125.93,475.96 L126.90,475.96 L127.87,475.95 L128.83,475.95 L129.80,475.95 L130.77,475.94 L131.73,475.94 L132.70,475.94 L133.67,475.93 L134.63,475.93 L135.60,475.92 L136.57,475.92 L137.53,475.91 L138.50,475.91 L139.47,475.90 L140.43,475.89 L141.40,475.89 L142.37,475.88 L143.33,475.87 L144.30,475.86 L145.27,475.86 L146.23,475.85 L147.20,475.84 L148.17,475.83 L149.13,475.82 L150.10,475.80 L151.07,475.79 L152.03,475.78 L153.00,475.77 L153.97,475.75 L154.93,475.74 L155.90,475.72 L156.87,475.70 L157.83,475.69 L158.80,475.67 L159.77,475.65 L160.73,475.63 L161.70,475.60 L162.67,475.58 L163.63,475.56 L164.60,475.53 L165.57,475.50 L166.53,475.47 L167.50,475.44 L168.47,475.41 L169.43,475.38 L170.40,475.34 L171.37,475.30 L172.33,475.27 L173.30,475.22 L174.27,475.18 L175.23,475.14 L176.20,475.09 L177.17,475.04 L178.13,474.98 L179.10,474.93 L180.07,474.87 L181.03,474.81 L182.00,474.75 L182.97,474.68 L183.93,474.61 L184.90,474.54 L185.87,474.46 L186.83,474.38 L187.80,474.29 L188.77,474.20 L189.73,474.11 L190.70,474.01 L191.67,473.91 L192.63,473.81 L193.60,473.70 L194.57,473.58 L195.53,473.46 L196.50,473.33 L197.47,473.20 L198.43,473.06 L199.40,472.92 L200.37,472.77 L201.33,472.61 L202.30,472.45 L203.27,472.27 L204.23,472.10 L205.20,471.91 L206.17,471.72 L207.13,471.52 L208.10,471.31 L209.07,471.09 L210.03,470.86 L211.00,470.63 L211.97,470.38 L212.93,470.13 L213.90,469.86 L214.87,469.59 L215.83,469.30 L216.80,469.00 L217.77,468.69 L218.73,468.37 L219.70,468.04 L220.67,467.70 L221.63,467.34 L222.60,466.97 L223.57,466.58 L224.53,466.18 L225.50,465.77 L226.47,465.34 L227.43,464.90 L228.40,464.44 L229.37,463.97 L230.33,463.48 L231.30,462.97 L232.27,462.45 L233.23,461.91 L234.20,461.35 L235.17,460.77 L236.13,460.17 L237.10,459.56 L238.07,458.92 L239.03,458.27 L240.00,457.59 L240.97,456.89 L241.93,456.17 L242.90,455.43 L243.87,454.67 L244.83,453.88 L245.80,453.07 L246.77,452.24 L247.73,451.38 L248.70,450.50 L249.67,449.59 L250.63,448.66 L251.60,447.70 L252.57,446.72 L253.53,445.71 L254.50,444.67 L255.47,443.60 L256.43,442.51 L257.40,441.38 L258.37,440.23 L259.33,439.05 L260.30,437.84 L261.27,436.60 L262.23,435.33 L263.20,434.03 L264.17,432.70 L265.13,431.34 L266.10,429.95 L267.07,428.52 L268.03,427.07 L269.00,425.58 L269.97,424.06 L270.93,422.50 L271.90,420.91 L272.87,419.29 L273.83,417.64 L274.80,415.95 L275.77,414.24 L276.73,412.48 L277.70,410.70 L278.67,408.88 L279.63,407.02 L280.60,405.13 L281.57,403.21 L282.53,401.26 L283.50,399.27 L284.47,397.25 L285.43,395.20 L286.40,393.11 L287.37,390.99 L288.33,388.84 L289.30,386.65 L290.27,384.44 L291.23,382.19 L292.20,379.91 L293.17,377.60 L294.13,375.26 L295.10,372.89 L296.07,370.49 L297.03,368.06 L298.00,365.60 L298.97,363.11 L299.93,360.60 L300.90,358.06 L301.87,355.49 L302.83,352.90 L303.80,350.29 L304.77,347.65 L305.73,344.99 L306.70,342.31 L307.67,339.60 L308.63,336.88 L309.60,334.13 L310.57,331.37 L311.53,328.59 L312.50,325.80 L313.47,322.99 L314.43,320.16 L315.40,317.33 L316.37,314.48 L317.33,311.62 L318.30,308.75 L319.27,305.88 L320.23,303.00 L321.20,300.11 L322.17,297.22 L323.13,294.33 L324.10,291.44 L325.07,288.55 L326.03,285.66 L327.00,282.77 L327.97,279.89 L328.93,277.01 L329.90,274.15 L330.87,271.29 L331.83,268.44 L332.80,265.61 L333.77,262.79 L334.73,259.99 L335.70,257.20 L336.67,254.44 L337.63,251.69 L338.60,248.97 L339.57,246.27 L340.53,243.60 L341.50,240.95 L342.47,238.33 L343.43,235.75 L344.40,233.19 L345.37,230.67 L346.33,228.19 L347.30,225.74 L348.27,223.33 L349.23,220.97 L350.20,218.64 L351.17,216.36 L352.13,214.12 L353.10,211.93 L354.07,209.78 L355.03,207.69 L356.00,205.64 L356.97,203.65 L357.93,201.71 L358.90,199.83 L359.87,198.00 L360.83,196.24 L361.80,194.53 L362.77,192.87 L363.73,191.29 L364.70,189.76 L365.67,188.29 L366.63,186.90 L367.60,185.56 L368.57,184.29 L369.53,183.09 L370.50,181.96 L371.47,180.90 L372.43,179.91 L373.40,178.99 L374.37,178.13 L375.33,177.36 L376.30,176.65 L377.27,176.02 L378.23,175.45 L379.20,174.97 L380.17,174.56 L381.13,174.22 L382.10,173.96 L383.07,173.77 L384.03,173.66 L385.00,173.62 L385.97,173.66 L386.93,173.77 L387.90,173.96 L388.87,174.22 L389.83,174.56 L390.80,174.97 L391.77,175.45 L392.73,176.02 L393.70,176.65 L394.67,177.36 L395.63,178.13 L396.60,178.99 L397.57,179.91 L398.53,180.90 L399.50,181.96 L400.47,183.09 L401.43,184.29 L402.40,185.56 L403.37,186.90 L404.33,188.29 L405.30,189.76 L406.27,191.29 L407.23,192.87 L408.20,194.53 L409.17,196.24 L410.13,198.00 L411.10,199.83 L412.07,201.71 L413.03,203.65 L414.00,205.64 L414.97,207.69 L415.93,209.78 L416.90,211.93 L417.87,214.12 L418.83,216.36 L419.80,218.64 L420.77,220.97 L421.73,223.33 L422.70,225.74 L423.67,228.19 L424.63,230.67 L425.60,233.19 L426.57,235.75 L427.53,238.33 L428.50,240.95 L429.47,243.60 L430.43,246.27 L431.40,248.97 L432.37,251.69 L433.33,254.44 L434.30,257.20 L435.27,259.99 L436.23,262.79 L437.20,265.61 L438.17,268.44 L439.13,271.29 L440.10,274.15 L441.07,277.01 L442.03,279.89 L443.00,282.77 L443.97,285.66 L444.93,288.55 L445.90,291.44 L446.87,294.33 L447.83,297.22 L448.80,300.11 L449.77,303.00 L450.73,305.88 L451.70,308.75 L452.67,311.62 L453.63,314.48 L454.60,317.33 L455.57,320.16 L456.53,322.99 L457.50,325.80 L458.47,328.59 L459.43,331.37 L460.40,334.13 L461.37,336.88 L462.33,339.60 L463.30,342.31 L464.27,344.99 L465.23,347.65 L466.20,350.29 L467.17,352.90 L468.13,355.49 L469.10,358.06 L470.07,360.60 L471.03,363.11 L472.00,365.60 L472.97,368.06 L473.93,370.49 L474.90,372.89 L475.87,375.26 L476.83,377.60 L477.80,379.91 L478.77,382.19 L479.73,384.44 L480.70,386.65 L481.67,388.84 L482.63,390.99 L483.60,393.11 L484.57,395.20 L485.53,397.25 L486.50,399.27 L487.47,401.26 L488.43,403.21 L489.40,405.13 L490.37,407.02 L491.33,408.88 L492.30,410.70 L493.27,412.48 L494.23,414.24 L495.20,415.95 L496.17,417.64 L497.13,419.29 L498.10,420.91 L499.07,422.50 L500.03,424.06 L501.00,425.58 L501.97,427.07 L502.93,428.52 L503.90,429.95 L504.87,431.34 L505.83,432.70 L506.80,434.03 L507.77,435.33 L508.73,436.60 L509.70,437.84 L510.67,439.05 L511.63,440.23 L512.60,441.38 L513.57,442.51 L514.53,443.60 L515.50,444.67 L516.47,445.71 L517.43,446.72 L518.40,447.70 L519.37,448.66 L520.33,449.59 L521.30,450.50 L522.27,451.38 L523.23,452.24 L524.20,453.07 L525.17,453.88 L526.13,454.67 L527.10,455.43 L528.07,456.17 L529.03,456.89 L530.00,457.59 L530.97,458.27 L531.93,458.92 L532.90,459.56 L533.87,460.17 L534.83,460.77 L535.80,461.35 L536.77,461.91 L537.73,462.45 L538.70,462.97 L539.67,463.48 L540.63,463.97 L541.60,464.44 L542.57,464.90 L543.53,465.34 L544.50,465.77 L545.47,466.18 L546.43,466.58 L547.40,466.97 L548.37,467.34 L549.33,467.70 L550.30,468.04 L551.27,468.37 L552.23,468.69 L553.20,469.00 L554.17,469.30 L555.13,469.59 L556.10,469.86 L557.07,470.13 L558.03,470.38 L559.00,470.63 L559.97,470.86 L560.93,471.09 L561.90,471.31 L562.87,471.52 L563.83,471.72 L564.80,471.91 L565.77,472.10 L566.73,472.27 L567.70,472.45 L568.67,472.61 L569.63,472.77 L570.60,472.92 L571.57,473.06 L572.53,473.20 L573.50,473.33 L574.47,473.46 L575.43,473.58 L576.40,473.70 L577.37,473.81 L578.33,473.91 L579.30,474.01 L580.27,474.11 L581.23,474.20 L582.20,474.29 L583.17,474.38 L584.13,474.46 L585.10,474.54 L586.07,474.61 L587.03,474.68 L588.00,474.75 L588.97,474.81 L589.93,474.87 L590.90,474.93 L591.87,474.98 L592.83,475.04 L593.80,475.09 L594.77,475.14 L595.73,475.18 L596.70,475.22 L597.67,475.27 L598.63,475.30 L599.60,475.34 L600.57,475.38 L601.53,475.41 L602.50,475.44 L603.47,475.47 L604.43,475.50 L605.40,475.53 L606.37,475.56 L607.33,475.58 L608.30,475.60 L609.27,475.63 L610.23,475.65 L611.20,475.67 L612.17,475.69 L613.13,475.70 L614.10,475.72 L615.07,475.74 L616.03,475.75 L617.00,475.77 L617.97,475.78 L618.93,475.79 L619.90,475.80 L620.87,475.82 L621.83,475.83 L622.80,475.84 L623.77,475.85 L624.73,475.86 L625.70,475.86 L626.67,475.87 L627.63,475.88 L628.60,475.89 L629.57,475.89 L630.53,475.90 L631.50,475.91 L632.47,475.91 L633.43,475.92 L634.40,475.92 L635.37,475.93 L636.33,475.93 L637.30,475.94 L638.27,475.94 L639.23,475.94 L640.20,475.95 L641.17,475.95 L642.13,475.95 L643.10,475.96 L644.07,475.96 L645.03,475.96 L646.00,475.97 L646.97,475.97 L647.93,475.97 L648.90,475.97 L649.87,475.97 L650.83,475.98 L651.80,475.98 L652.77,475.98 L653.73,475.98 L654.70,475.98 L655.67,475.98 L656.63,475.98 L657.60,475.98 L658.57,475.99 L659.53,475.99 L660.50,475.99 L661.47,475.99 L662.43,475.99 L663.40,475.99 L664.37,475.99 L665.33,475.99 L666.30,475.99 L667.27,475.99 L668.23,475.99 L669.20,475.99 L670.17,475.99 L671.13,475.99 L672.10,475.99 L673.07,476.00 L674.03,476.00 L675.00,476.00" fill="none" stroke="#25a45e" stroke-width="2.75" stroke-dasharray="11.9 7.2 1.2 8.3" stroke-linejoin="round" stroke-linecap="round"/>
<path d="M95.00,475.99 L95.97,475.99 L96.93,475.99 L97.90,475.99 L98.87,475.99 L99.83,475.99 L100.80,475.99 L101.77,475.99 L102.73,475.99 L103.70,475.99 L104.67,475.99 L105.63,475.99 L106.60,475.99 L107.57,475.98 L108.53,475.98 L109.50,475.98 L110.47,475.98 L111.43,475.98 L112.40,475.98 L113.37,475.98 L114.33,475.97 L115.30,475.97 L116.27,475.97 L117.23,475.97 L118.20,475.97 L119.17,475.96 L120.13,475.96 L121.10,475.96 L122.07,475.96 L123.03,475.95 L124.00,475.95 L124.97,475.95 L125.93,475.94 L126.90,475.94 L127.87,475.93 L128.83,475.93 L129.80,475.93 L130.77,475.92 L131.73,475.91 L132.70,475.91 L133.67,475.90 L134.63,475.90 L135.60,475.89 L136.57,475.88 L137.53,475.87 L138.50,475.87 L139.47,475.86 L140.43,475.85 L141.40,475.84 L142.37,475.83 L143.33,475.82 L144.30,475.81 L145.27,475.79 L146.23,475.78 L147.20,475.77 L148.17,475.75 L149.13,475.74 L150.10,475.72 L151.07,475.70 L152.03,475.68 L153.00,475.66 L153.97,475.64 L154.93,475.62 L155.90,475.60 L156.87,475.57 L157.83,475.55 L158.80,475.52 L159.77,475.49 L160.73,475.46 L161.70,475.43 L162.67,475.40 L163.63,475.36 L164.60,475.32 L165.57,475.28 L166.53,475.24 L167.50,475.20 L168.47,475.15 L169.43,475.10 L170.40,475.05 L171.37,475.00 L172.33,474.94 L173.30,474.88 L174.27,474.82 L175.23,474.76 L176.20,474.69 L177.17,474.61 L178.13,474.54 L179.10,474.46 L180.07,474.37 L181.03,474.29 L182.00,474.19 L182.97,474.10 L183.93,474.00 L184.90,473.89 L185.87,473.78 L186.83,473.66 L187.80,473.54 L188.77,473.41 L189.73,473.28 L190.70,473.14 L191.67,472.99 L192.63,472.84 L193.60,472.68 L194.57,472.51 L195.53,472.34 L196.50,472.16 L197.47,471.97 L198.43,471.77 L199.40,471.56 L200.37,471.34 L201.33,471.12 L202.30,470.88 L203.27,470.64 L204.23,470.38 L205.20,470.11 L206.17,469.83 L207.13,469.54 L208.10,469.24 L209.07,468.93 L210.03,468.60 L211.00,468.26 L211.97,467.91 L212.93,467.54 L213.90,467.16 L214.87,466.76 L215.83,466.35 L216.80,465.92 L217.77,465.48 L218.73,465.02 L219.70,464.54 L220.67,464.04 L221.63,463.53 L222.60,462.99 L223.57,462.44 L224.53,461.87 L225.50,461.27 L226.47,460.66 L227.43,460.02 L228.40,459.36 L229.37,458.68 L230.33,457.97 L231.30,457.24 L232.27,456.49 L233.23,455.71 L234.20,454.90 L235.17,454.07 L236.13,453.21 L237.10,452.32 L238.07,451.41 L239.03,450.46 L240.00,449.49 L240.97,448.49 L241.93,447.45 L242.90,446.38 L243.87,445.28 L244.83,444.15 L245.80,442.99 L246.77,441.79 L247.73,440.55 L248.70,439.28 L249.67,437.97 L250.63,436.63 L251.60,435.25 L252.57,433.83 L253.53,432.38 L254.50,430.88 L255.47,429.35 L256.43,427.77 L257.40,426.15 L258.37,424.50 L259.33,422.80 L260.30,421.05 L261.27,419.27 L262.23,417.44 L263.20,415.57 L264.17,413.65 L265.13,411.69 L266.10,409.69 L267.07,407.63 L268.03,405.53 L269.00,403.39 L269.97,401.20 L270.93,398.96 L271.90,396.68 L272.87,394.34 L273.83,391.96 L274.80,389.53 L275.77,387.06 L276.73,384.53 L277.70,381.96 L278.67,379.34 L279.63,376.67 L280.60,373.95 L281.57,371.19 L282.53,368.37 L283.50,365.51 L284.47,362.60 L285.43,359.64 L286.40,356.64 L287.37,353.59 L288.33,350.49 L289.30,347.34 L290.27,344.15 L291.23,340.91 L292.20,337.63 L293.17,334.30 L294.13,330.93 L295.10,327.52 L296.07,324.06 L297.03,320.56 L298.00,317.02 L298.97,313.44 L299.93,309.82 L300.90,306.17 L301.87,302.47 L302.83,298.74 L303.80,294.98 L304.77,291.18 L305.73,287.34 L306.70,283.48 L307.67,279.59 L308.63,275.66 L309.60,271.71 L310.57,267.73 L311.53,263.73 L312.50,259.71 L313.47,255.66 L314.43,251.60 L315.40,247.51 L316.37,243.41 L317.33,239.29 L318.30,235.17 L319.27,231.03 L320.23,226.88 L321.20,222.72 L322.17,218.56 L323.13,214.40 L324.10,210.23 L325.07,206.07 L326.03,201.91 L327.00,197.75 L327.97,193.60 L328.93,189.46 L329.90,185.33 L330.87,181.22 L331.83,177.12 L332.80,173.04 L333.77,168.98 L334.73,164.94 L335.70,160.93 L336.67,156.95 L337.63,152.99 L338.60,149.07 L339.57,145.19 L340.53,141.34 L341.50,137.53 L342.47,133.76 L343.43,130.04 L344.40,126.36 L345.37,122.73 L346.33,119.15 L347.30,115.63 L348.27,112.16 L349.23,108.75 L350.20,105.40 L351.17,102.11 L352.13,98.89 L353.10,95.73 L354.07,92.65 L355.03,89.63 L356.00,86.69 L356.97,83.82 L357.93,81.03 L358.90,78.32 L359.87,75.69 L360.83,73.14 L361.80,70.68 L362.77,68.30 L363.73,66.01 L364.70,63.81 L365.67,61.70 L366.63,59.69 L367.60,57.77 L368.57,55.94 L369.53,54.22 L370.50,52.59 L371.47,51.06 L372.43,49.63 L373.40,48.30 L374.37,47.07 L375.33,45.95 L376.30,44.93 L377.27,44.02 L378.23,43.22 L379.20,42.51 L380.17,41.92 L381.13,41.43 L382.10,41.06 L383.07,40.79 L384.03,40.62 L385.00,40.57 L385.97,40.62 L386.93,40.79 L387.90,41.06 L388.87,41.43 L389.83,41.92 L390.80,42.51 L391.77,43.22 L392.73,44.02 L393.70,44.93 L394.67,45.95 L395.63,47.07 L396.60,48.30 L397.57,49.63 L398.53,51.06 L399.50,52.59 L400.47,54.22 L401.43,55.94 L402.40,57.77 L403.37,59.69 L404.33,61.70 L405.30,63.81 L406.27,66.01 L407.23,68.30 L408.20,70.68 L409.17,73.14 L410.13,75.69 L411.10,78.32 L412.07,81.03 L413.03,83.82 L414.00,86.69 L414.97,89.63 L415.93,92.65 L416.90,95.73 L417.87,98.89 L418.83,102.11 L419.80,105.40 L420.77,108.75 L421.73,112.16 L422.70,115.63 L423.67,119.15 L424.63,122.73 L425.60,126.36 L426.57,130.04 L427.53,133.76 L428.50,137.53 L429.47,141.34 L430.43,145.19 L431.40,149.07 L432.37,152.99 L433.33,156.95 L434.30,160.93 L435.27,164.94 L436.23,168.98 L437.20,173.04 L438.17,177.12 L439.13,181.22 L440.10,185.33 L441.07,189.46 L442.03,193.60 L443.00,197.75 L443.97,201.91 L444.93,206.07 L445.90,210.23 L446.87,214.40 L447.83,218.56 L448.80,222.72 L449.77,226.88 L450.73,231.03 L451.70,235.17 L452.67,239.29 L453.63,243.41 L454.60,247.51 L455.57,251.60 L456.53,255.66 L457.50,259.71 L458.47,263.73 L459.43,267.73 L460.40,271.71 L461.37,275.66 L462.33,279.59 L463.30,283.48 L464.27,287.34 L465.23,291.18 L466.20,294.98 L467.17,298.74 L468.13,302.47 L469.10,306.17 L470.07,309.82 L471.03,313.44 L472.00,317.02 L472.97,320.56 L473.93,324.06 L474.90,327.52 L475.87,330.93 L476.83,334.30 L477.80,337.63 L478.77,340.91 L479.73,344.15 L480.70,347.34 L481.67,350.49 L482.63,353.59 L483.60,356.64 L484.57,359.64 L485.53,362.60 L486.50,365.51 L487.47,368.37 L488.43,371.19 L489.40,373.95 L490.37,376.67 L491.33,379.34 L492.30,381.96 L493.27,384.53 L494.23,387.06 L495.20,389.53 L496.17,391.96 L497.13,394.34 L498.10,396.68 L499.07,398.96 L500.03,401.20 L501.00,403.39 L501.97,405.53 L502.93,407.63 L503.90,409.69 L504.87,411.69 L505.83,413.65 L506.80,415.57 L507.77,417.44 L508.73,419.27 L509.70,421.05 L510.67,422.80 L511.63,424.50 L512.60,426.15 L513.57,427.77 L514.53,429.35 L515.50,430.88 L516.47,432.38 L517.43,433.83 L518.40,435.25 L519.37,436.63 L520.33,437.97 L521.30,439.28 L522.27,440.55 L523.23,441.79 L524.20,442.99 L525.17,444.15 L526.13,445.28 L527.10,446.38 L528.07,447.45 L529.03,448.49 L530.00,449.49 L530.97,450.46 L531.93,451.41 L532.90,452.32 L533.87,453.21 L534.83,454.07 L535.80,454.90 L536.77,455.71 L537.73,456.49 L538.70,457.24 L539.67,457.97 L540.63,458.68 L541.60,459.36 L542.57,460.02 L543.53,460.66 L544.50,461.27 L545.47,461.87 L546.43,462.44 L547.40,462.99 L548.37,463.53 L549.33,464.04 L550.30,464.54 L551.27,465.02 L552.23,465.48 L553.20,465.92 L554.17,466.35 L555.13,466.76 L556.10,467.16 L557.07,467.54 L558.03,467.91 L559.00,468.26 L559.97,468.60 L560.93,468.93 L561.90,469.24 L562.87,469.54 L563.83,469.83 L564.80,470.11 L565.77,470.38 L566.73,470.64 L567.70,470.88 L568.67,471.12 L569.63,471.34 L570.60,471.56 L571.57,471.77 L572.53,471.97 L573.50,472.16 L574.47,472.34 L575.43,472.51 L576.40,472.68 L577.37,472.84 L578.33,472.99 L579.30,473.14 L580.27,473.28 L581.23,473.41 L582.20,473.54 L583.17,473.66 L584.13,473.78 L585.10,473.89 L586.07,474.00 L587.03,474.10 L588.00,474.19 L588.97,474.29 L589.93,474.37 L590.90,474.46 L591.87,474.54 L592.83,474.61 L593.80,474.69 L594.77,474.76 L595.73,474.82 L596.70,474.88 L597.67,474.94 L598.63,475.00 L599.60,475.05 L600.57,475.10 L601.53,475.15 L602.50,475.20 L603.47,475.24 L604.43,475.28 L605.40,475.32 L606.37,475.36 L607.33,475.40 L608.30,475.43 L609.27,475.46 L610.23,475.49 L611.20,475.52 L612.17,475.55 L613.13,475.57 L614.10,475.60 L615.07,475.62 L616.03,475.64 L617.00,475.66 L617.97,475.68 L618.93,475.70 L619.90,475.72 L620.87,475.74 L621.83,475.75 L622.80,475.77 L623.77,475.78 L624.73,475.79 L625.70,475.81 L626.67,475.82 L627.63,475.83 L628.60,475.84 L629.57,475.85 L630.53,475.86 L631.50,475.87 L632.47,475.87 L633.43,475.88 L634.40,475.89 L635.37,475.90 L636.33,475.90 L637.30,475.91 L638.27,475.91 L639.23,475.92 L640.20,475.93 L641.17,475.93 L642.13,475.93 L643.10,475.94 L644.07,475.94 L645.03,475.95 L646.00,475.95 L646.97,475.95 L647.93,475.96 L648.90,475.96 L649.87,475.96 L650.83,475.96 L651.80,475.97 L652.77,475.97 L653.73,475.97 L654.70,475.97 L655.67,475.97 L656.63,475.98 L657.60,475.98 L658.57,475.98 L659.53,475.98 L660.50,475.98 L661.47,475.98 L662.43,475.98 L663.40,475.99 L664.37,475.99 L665.33,475.99 L666.30,475.99 L667.27,475.99 L668.23,475.99 L669.20,475.99 L670.17,475.99 L671.13,475.99 L672.10,475.99 L673.07,475.99 L674.03,475.99 L675.00,475.99" fill="none" stroke="#ab73de" stroke-width="2.75" stroke-dasharray="8.1 8.1 0.8 8.4 0.8 7.9" stroke-linejoin="round" stroke-linecap="round"/>
<g font-family="Liberation Serif" font-weight="bold" font-size="20.3" fill="#000">
<text x="80.1" y="482.00" text-anchor="end" letter-spacing="0.6">0.0</text>
<text x="80.1" y="388.60" text-anchor="end" letter-spacing="0.6">0.1</text>
<text x="80.1" y="295.20" text-anchor="end" letter-spacing="0.6">0.2</text>
<text x="80.1" y="201.80" text-anchor="end" letter-spacing="0.6">0.3</text>
<text x="80.1" y="108.40" text-anchor="end" letter-spacing="0.6">0.4</text>
<text x="80.1" y="15.00" text-anchor="end" letter-spacing="0.6">0.5</text>
<text x="94.50" y="507" text-anchor="middle">0</text>
<text x="191.17" y="507" text-anchor="middle">5</text>
<text x="287.83" y="507" text-anchor="middle">10</text>
<text x="384.50" y="507" text-anchor="middle">15</text>
<text x="481.17" y="507" text-anchor="middle">20</text>
<text x="577.83" y="507" text-anchor="middle">25</text>
<text x="674.50" y="507" text-anchor="middle">30</text>
</g>
<line x1="562.38" y1="17.60" x2="607.62" y2="17.60" stroke="#454545" stroke-width="2.75" stroke-linecap="round"/>
<text x="612.6" y="23.90" font-family="Liberation Serif" font-weight="bold" font-size="19.6">10W</text>
<line x1="562.38" y1="42.30" x2="607.62" y2="42.30" stroke="#f03c3c" stroke-width="2.75" stroke-dasharray="9.4 13.0" stroke-linecap="round"/>
<text x="612.6" y="48.60" font-family="Liberation Serif" font-weight="bold" font-size="19.6">15W</text>
<line x1="562.38" y1="66.70" x2="607.62" y2="66.70" stroke="#0a5fe0" stroke-width="2.75" stroke-dasharray="0.9 12.6" stroke-linecap="round"/>
<text x="612.6" y="73.00" font-family="Liberation Serif" font-weight="bold" font-size="19.6">20W</text>
<line x1="562.38" y1="92.00" x2="607.62" y2="92.00" stroke="#25a45e" stroke-width="2.75" stroke-dasharray="11.9 7.2 1.2 8.3" stroke-linecap="round"/>
<text x="612.6" y="98.30" font-family="Liberation Serif" font-weight="bold" font-size="19.6">25W</text>
<line x1="562.38" y1="116.50" x2="607.62" y2="116.50" stroke="#ab73de" stroke-width="2.75" stroke-dasharray="8.1 8.1 0.8 8.4 0.8 7.9" stroke-linecap="round"/>
<text x="612.6" y="122.80" font-family="Liberation Serif" font-weight="bold" font-size="19.6">30W</text>
<g font-family="Liberation Serif" fill="#000"><text x="360.1" y="544.5" font-weight="bold" font-style="italic" font-size="24">t</text><text x="373.9" y="544.5" font-size="25.5">/</text><text x="386.1" y="544.5" font-weight="bold" font-size="23.6">ns</text></g>
<g transform="translate(24,270) rotate(-90) scale(1,1.13)" font-family="Liberation Serif" font-size="24" fill="#000"><text x="0.00" y="0" font-style="italic">P</text><text x="17.00" y="-8.40" font-size="15">′</text><text x="18.50" y="5.90" font-style="italic" font-size="15">r</text><text x="29.00" y="0">/</text><text x="42.80" y="0">μW</text></g></svg>
</body></html>
